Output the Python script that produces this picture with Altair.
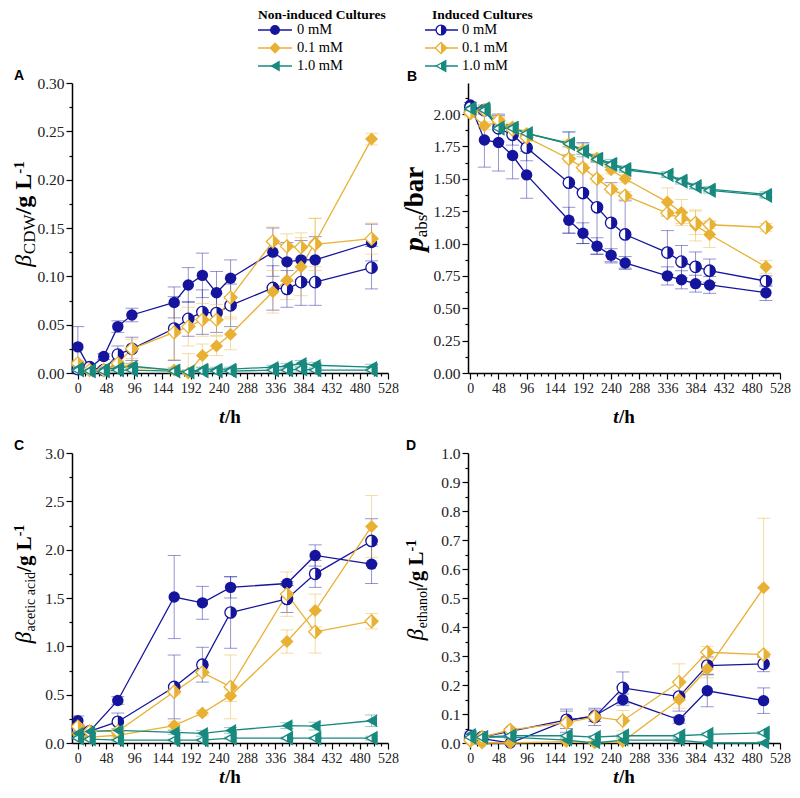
import altair as alt
import pandas as pd

# ---------------- data ----------------
# keys: NI = non-induced, IN = induced ; 0 / 01 / 1  -> 0 mM / 0.1 mM / 1.0 mM
A_T = [0, 20, 44, 68, 92, 164, 188, 212, 236, 260, 332, 356, 380, 404, 500]
A_NI0 = [0.027, 0.005, 0.017, 0.048, 0.060, 0.073, 0.091, 0.101, 0.083, 0.098, 0.125, 0.115, 0.117, 0.117, 0.135]
A_NI0_E = [0.021, 0.003, 0.003, 0.006, 0.007, 0.016, 0.018, 0.023, 0.022, 0.019, 0.025, 0.020, 0.020, 0.024, 0.019]
A_IN0 = [0.004, 0.006, 0.003, 0.019, 0.025, 0.046, 0.056, 0.063, 0.062, 0.070, 0.088, 0.087, 0.094, 0.094, 0.109]
A_IN0_E = [0.003, 0.002, 0.003, 0.009, 0.012, 0.033, 0.018, 0.023, 0.020, 0.022, 0.023, 0.019, 0.024, 0.024, 0.022]
A_NI01 = [0.008, 0.003, 0.003, 0.009, 0.006, 0.003, 0.000, 0.018, 0.028, 0.040, 0.084, 0.096, 0.110, 0.135, 0.242]
A_NI01_E = [0.003, 0.002, 0.002, 0.003, 0.003, 0.003, 0.020, 0.012, 0.010, 0.016, 0.022, 0.020, 0.030, 0.025, 0.006]
A_IN01 = [0.010, 0.003, 0.003, 0.010, 0.025, 0.042, 0.048, 0.055, 0.055, 0.078, 0.136, 0.131, 0.130, 0.133, 0.139]
A_IN01_E = [0.003, 0.002, 0.002, 0.003, 0.010, 0.028, 0.020, 0.017, 0.016, 0.020, 0.015, 0.013, 0.015, 0.027, 0.016]
A_NI1 = [0.005, 0.003, 0.004, 0.005, 0.007, 0.003, 0.001, 0.004, 0.004, 0.004, 0.006, 0.007, 0.010, 0.008, 0.006]
A_NI1_E = [0.003, 0.002, 0.002, 0.002, 0.003, 0.002, 0.002, 0.002, 0.002, 0.002, 0.002, 0.003, 0.003, 0.003, 0.003]
A_IN1 = [0.003, 0.002, 0.002, 0.003, 0.003, 0.002, 0.001, 0.002, 0.002, 0.002, 0.003, 0.003, 0.004, 0.003, 0.003]
A_IN1_E = [0.002, 0.002, 0.002, 0.002, 0.002, 0.002, 0.002, 0.002, 0.002, 0.002, 0.002, 0.002, 0.002, 0.002, 0.002]

B_T = [0, 24, 48, 72, 96, 168, 192, 216, 240, 264, 336, 360, 384, 408, 504]
B_NI0 = [2.07, 1.80, 1.78, 1.68, 1.53, 1.18, 1.08, 0.98, 0.91, 0.85, 0.75, 0.72, 0.69, 0.68, 0.62]
B_NI0_E = [0.02, 0.21, 0.22, 0.18, 0.18, 0.10, 0.08, 0.065, 0.05, 0.05, 0.07, 0.07, 0.065, 0.065, 0.06]
B_IN0 = [2.05, 2.03, 1.89, 1.84, 1.74, 1.47, 1.39, 1.28, 1.16, 1.07, 0.93, 0.86, 0.82, 0.79, 0.71]
B_IN0_E = [0.02, 0.03, 0.10, 0.08, 0.10, 0.39, 0.39, 0.36, 0.31, 0.26, 0.17, 0.125, 0.115, 0.09, 0.04]
B_NI01 = [2.00, 1.91, 1.94, 1.90, 1.85, 1.77, 1.72, 1.66, 1.57, 1.50, 1.32, 1.24, 1.14, 1.07, 0.82]
B_NI01_E = [0.02, 0.03, 0.03, 0.03, 0.03, 0.03, 0.03, 0.03, 0.03, 0.03, 0.11, 0.10, 0.12, 0.10, 0.05]
B_IN01 = [2.01, 2.03, 1.95, 1.88, 1.82, 1.655, 1.585, 1.50, 1.42, 1.37, 1.235, 1.195, 1.16, 1.145, 1.125]
B_IN01_E = [0.02, 0.03, 0.03, 0.03, 0.03, 0.03, 0.03, 0.03, 0.03, 0.03, 0.02, 0.04, 0.09, 0.03, 0.03]
B_NI1 = [2.05, 2.05, 1.90, 1.90, 1.85, 1.775, 1.72, 1.66, 1.62, 1.58, 1.535, 1.49, 1.445, 1.42, 1.38]
B_NI1_E = [0.02, 0.02, 0.02, 0.02, 0.02, 0.09, 0.05, 0.03, 0.03, 0.02, 0.02, 0.02, 0.02, 0.02, 0.02]
B_IN1 = [2.04, 2.03, 1.89, 1.89, 1.85, 1.77, 1.71, 1.65, 1.61, 1.57, 1.53, 1.48, 1.44, 1.41, 1.37]
B_IN1_E = [0.02, 0.02, 0.02, 0.02, 0.02, 0.02, 0.02, 0.02, 0.02, 0.02, 0.02, 0.02, 0.02, 0.02, 0.02]

C_T = [0, 20, 68, 164, 212, 260, 356, 404, 500]
C_NI0 = [0.23, 0.12, 0.44, 1.51, 1.45, 1.61, 1.65, 1.94, 1.85]
C_NI0_E = [0.05, 0.02, 0.04, 0.43, 0.17, 0.11, 0.02, 0.11, 0.20]
C_IN0 = [0.15, 0.12, 0.22, 0.58, 0.81, 1.35, 1.49, 1.75, 2.09]
C_IN0_E = [0.04, 0.02, 0.09, 0.33, 0.18, 0.37, 0.14, 0.14, 0.23]
C_NI01 = [0.10, 0.06, 0.08, 0.18, 0.31, 0.49, 1.05, 1.37, 2.24]
C_NI01_E = [0.02, 0.02, 0.02, 0.04, 0.03, 0.06, 0.12, 0.17, 0.32]
C_IN01 = [0.17, 0.12, 0.12, 0.53, 0.73, 0.58, 1.54, 1.15, 1.26]
C_IN01_E = [0.03, 0.02, 0.02, 0.03, 0.03, 0.33, 0.23, 0.22, 0.08]
C_NI1 = [0.10, 0.12, 0.13, 0.11, 0.10, 0.13, 0.18, 0.175, 0.23]
C_NI1_E = [0.02, 0.02, 0.02, 0.02, 0.03, 0.03, 0.03, 0.04, 0.06]
C_IN1 = [0.05, 0.04, 0.03, 0.03, 0.03, 0.05, 0.05, 0.05, 0.05]
C_IN1_E = [0.01, 0.01, 0.01, 0.01, 0.01, 0.01, 0.01, 0.01, 0.02]

D_T = [0, 20, 68, 164, 212, 260, 356, 404, 500]
D_NI0 = [0.020, 0.015, 0.000, 0.077, 0.094, 0.149, 0.080, 0.180, 0.146]
D_NI0_E = [0.005, 0.005, 0.005, 0.040, 0.020, 0.020, 0.012, 0.055, 0.044]
D_IN0 = [0.025, 0.020, 0.040, 0.080, 0.090, 0.190, 0.160, 0.267, 0.273]
D_IN0_E = [0.005, 0.005, 0.005, 0.030, 0.030, 0.055, 0.050, 0.030, 0.027]
D_NI01 = [0.005, 0.000, 0.000, 0.005, 0.000, 0.005, 0.150, 0.255, 0.535]
D_NI01_E = [0.005, 0.005, 0.005, 0.005, 0.005, 0.005, 0.030, 0.030, 0.240]
D_IN01 = [0.010, 0.020, 0.045, 0.070, 0.090, 0.077, 0.210, 0.313, 0.305]
D_IN01_E = [0.005, 0.005, 0.005, 0.010, 0.010, 0.035, 0.063, 0.020, 0.010]
D_NI1 = [0.030, 0.020, 0.020, 0.010, 0.000, 0.010, 0.010, 0.000, 0.000]
D_NI1_E = [0.008, 0.005, 0.005, 0.005, 0.005, 0.005, 0.005, 0.005, 0.005]
D_IN1 = [0.020, 0.020, 0.025, 0.025, 0.020, 0.025, 0.025, 0.030, 0.035]
D_IN1_E = [0.005, 0.005, 0.005, 0.005, 0.005, 0.005, 0.005, 0.005, 0.005]

CONC_LABELS = ["0 mM", "0.1 mM", "1.0 mM"]
GROUP_TITLES = ["Non-induced Cultures", "Induced Cultures"]

# ---------------- styling ----------------
BLUE, ORANGE, TEAL = "#14149c", "#e9b133", "#17897f"
COLORS = [BLUE, ORANGE, TEAL]
SHAPES = ["circle", "diamond", "triangle-left"]
SIZES = [130, 170, 160]
HALF = {
    "circle": "M0,-1A1,1,0,0,1,0,1Z",
    "diamond": "M0,-1L1,0L0,1Z",
    "triangle-left": "M0,-0.5L0.866,-1L0.866,1L0,0.5Z",
}
SERIF = "Liberation Serif"
SANS = "Liberation Sans"
ONE = pd.DataFrame({"k": [0]})

W_REG = {"C": .667, "D": .722, "W": .944, "a": .444, "b": .5, "c": .444, "d": .5, "e": .444,
         "t": .278, "i": .278, "h": .5, "n": .5, "o": .5, "l": .278, "s": .389, " ": .25,
         "-": .333, "1": .5, "/": .278, "g": .5, "L": .611, "r": .333}
W_BOLD = {"/": .278, "g": .5, "L": .667, " ": .25, "b": .556, "a": .5, "r": .444, "-": .333,
          "1": .5, "h": .556, "t": .333, "p": .556}
W_IT = {"β": .52, "t": .3, "p": .5}


def tw(s, size, weight, style):
    if style == "italic":
        tab = W_IT
    elif weight == "bold":
        tab = W_BOLD
    else:
        tab = W_REG
    return sum(tab.get(ch, 0.5) for ch in s) * size


def text_layer(txt, x, y, size, weight="normal", style="normal", angle=0, font=SERIF,
               align="left", baseline="alphabetic"):
    return alt.Chart(ONE).mark_text(
        text=txt, font=font, fontSize=size, fontWeight=weight, fontStyle=style,
        angle=angle, align=align, baseline=baseline, color="black"
    ).encode(x=alt.value(x), y=alt.value(y))


def y_title(pieces, base_x, yc):
    total = sum(tw(p[0], p[1], p[2], p[3]) for p in pieces)
    y = yc + total / 2
    out = []
    for txt, size, weight, style, shift in pieces:
        out.append(text_layer(txt, base_x + shift, y, size, weight, style, angle=270))
        y -= tw(txt, size, weight, style)
    return out


def x_title(cx, y):
    pieces = [("t", 19, "bold", "italic"), ("/h", 19, "bold", "normal")]
    total = sum(tw(p[0], p[1], p[2], p[3]) for p in pieces)
    x = cx - total / 2
    out = []
    for txt, size, weight, style in pieces:
        out.append(text_layer(txt, x, y, size, weight, style))
        x += tw(txt, size, weight, style)
    return out


def panel(times, series, ymax, major, minor, fmt, xmin, w, h, letter, letter_xy,
          ypieces, ytx, yty, xty, legend=None):
    xtest = "datum.value % 48 === 0"
    x_axis = alt.Axis(
        values=list(range(0, 529, 12)), format="d",
        labelExpr=f"{xtest} ? datum.label : ''",
        tickSize={"condition": {"test": xtest, "value": 6}, "value": 3},
        labelFontSize=14, labelFont=SERIF, labelColor="#222", labelFlush=False,
        labelOverlap=False, title=None, labelPadding=2)
    x_scale = alt.Scale(domain=[xmin, 528], nice=False, zero=False)
    mk = int(round(major * 1000))
    nvals = int(round(ymax / minor)) + 1
    yvals = [round(i * minor, 4) for i in range(nvals) if i * minor <= ymax + 1e-9]
    test = f"round(datum.value*1000) % {mk} === 0"
    y_axis = alt.Axis(
        values=yvals, format=fmt,
        labelExpr=f"{test} ? datum.label : ''",
        tickSize={"condition": {"test": test, "value": 6}, "value": 3},
        labelFontSize=15.5, labelFont=SERIF, labelColor="#222", labelFlush=False,
        labelOverlap=False, title=None, labelPadding=2)
    y_scale = alt.Scale(domain=[0, ymax], nice=False, zero=True)

    def X(f="t"):
        return alt.X(f"{f}:Q", scale=x_scale, axis=x_axis)

    def Y(f="v"):
        return alt.Y(f"{f}:Q", scale=y_scale, axis=y_axis)

    layers = []
    point_layers = []
    for ci in range(3):
        for induced in (False, True):
            vals, errs = series[ci][1 if induced else 0]
            df = pd.DataFrame({"t": times, "v": vals, "e": errs})
            df["lo"] = (df["v"] - df["e"]).clip(lower=0)
            df["hi"] = df["v"] + df["e"]
            c = COLORS[ci]
            base = alt.Chart(df)
            layers.append(base.mark_line(color=c, strokeWidth=1.3).encode(x=X(), y=Y()))
            layers.append(base.mark_rule(color=c, opacity=0.45, strokeWidth=1).encode(
                x=X(), y=Y("lo"), y2="hi:Q"))
            for f in ("lo", "hi"):
                layers.append(base.mark_tick(color=c, opacity=0.45, orient="horizontal",
                                             size=13, thickness=1).encode(x=X(), y=Y(f)))
            if not induced:
                point_layers.append(base.mark_point(shape=SHAPES[ci], filled=True, color=c,
                                                    opacity=1, size=SIZES[ci]).encode(x=X(), y=Y()))
            else:
                point_layers.append(base.mark_point(shape=SHAPES[ci], filled=True, fill="white",
                                                    stroke=c, strokeWidth=1.3, opacity=1,
                                                    size=SIZES[ci]).encode(x=X(), y=Y()))
                point_layers.append(base.mark_point(shape=HALF[SHAPES[ci]], filled=True, color=c,
                                                    strokeWidth=0, opacity=1,
                                                    size=SIZES[ci]).encode(x=X(), y=Y()))
    layers += point_layers
    layers.append(text_layer(letter, letter_xy[0], letter_xy[1], 14, "bold", font=SANS,
                             align="center", baseline="middle"))
    layers += y_title(ypieces, ytx, yty)
    layers += x_title(w / 2, xty)
    if legend:
        col_x, row_y, title_y = legend
        for gi, (lx1, lx2, mx, tx, ttx) in enumerate(col_x):
            layers.append(text_layer(GROUP_TITLES[gi], ttx, title_y, 13.5, "bold"))
            for ci in range(3):
                c = COLORS[ci]
                yy = row_y[ci]
                layers.append(alt.Chart(ONE).mark_rule(color=c, strokeWidth=1.5).encode(
                    x=alt.value(lx1), x2=alt.value(lx2), y=alt.value(yy)))
                if gi == 0:
                    layers.append(alt.Chart(ONE).mark_point(shape=SHAPES[ci], filled=True, color=c,
                                                            opacity=1, size=SIZES[ci] * 0.75).encode(
                        x=alt.value(mx), y=alt.value(yy)))
                else:
                    layers.append(alt.Chart(ONE).mark_point(shape=SHAPES[ci], filled=True, fill="white",
                                                            stroke=c, strokeWidth=1.3, opacity=1,
                                                            size=SIZES[ci] * 0.75).encode(
                        x=alt.value(mx), y=alt.value(yy)))
                    layers.append(alt.Chart(ONE).mark_point(shape=HALF[SHAPES[ci]], filled=True, color=c,
                                                            strokeWidth=0, opacity=1,
                                                            size=SIZES[ci] * 0.75).encode(
                        x=alt.value(mx), y=alt.value(yy)))
                layers.append(text_layer(CONC_LABELS[ci], tx, yy, 14.5, baseline="middle"))
    return alt.layer(*layers).properties(width=w, height=h)


WL, WR, H = 316, 312, 290
LEGEND = ([(186, 220, 203, 225, 186), (353, 386, 369, 390, 360)], [-53, -35, -17], -64)

A = panel(A_T, [((A_NI0, A_NI0_E), (A_IN0, A_IN0_E)), ((A_NI01, A_NI01_E), (A_IN01, A_IN01_E)),
                ((A_NI1, A_NI1_E), (A_IN1, A_IN1_E))],
          0.30, 0.05, 0.025, ".2f", -10, WL, H, "A", (-53, -7),
          [("β", 24, "normal", "italic", 0), ("CDW", 17, "normal", "normal", 4),
           ("/g L", 24, "bold", "normal", 0), ("-1", 15, "bold", "normal", -7)],
          -41, 131, 340, legend=LEGEND)
B = panel(B_T, [((B_NI0, B_NI0_E), (B_IN0, B_IN0_E)), ((B_NI01, B_NI01_E), (B_IN01, B_IN01_E)),
                ((B_NI1, B_NI1_E), (B_IN1, B_IN1_E))],
          2.24, 0.25, 0.125, ".2f", -4, WR, H, "B", (-56, -6),
          [("p", 28, "bold", "italic", 0), ("abs", 17, "normal", "normal", 4),
           ("/bar", 27, "bold", "normal", 0)],
          -45, 126, 340)
C = panel(C_T, [((C_NI0, C_NI0_E), (C_IN0, C_IN0_E)), ((C_NI01, C_NI01_E), (C_IN01, C_IN01_E)),
                ((C_NI1, C_NI1_E), (C_IN1, C_IN1_E))],
          3.0, 0.5, 0.25, ".1f", -10, WL, H, "C", (-53, -7),
          [("β", 23, "normal", "italic", 0), ("acetic acid", 14, "normal", "normal", 4),
           ("/g L", 21, "bold", "normal", 0), ("-1", 14, "bold", "normal", -7)],
          -41, 131, 330)
D = panel(D_T, [((D_NI0, D_NI0_E), (D_IN0, D_IN0_E)), ((D_NI01, D_NI01_E), (D_IN01, D_IN01_E)),
                ((D_NI1, D_NI1_E), (D_IN1, D_IN1_E))],
          1.0, 0.1, 0.05, ".1f", -4, WR, H, "D", (-57, -7),
          [("β", 23, "normal", "italic", 0), ("ethanol", 14, "normal", "normal", 4),
           ("/g L", 21, "bold", "normal", 0), ("-1", 14, "bold", "normal", -7)],
          -45, 137, 330)

chart = alt.concat(A, B, C, D, columns=2, spacing=80, bounds="flush").properties(
    padding={"left": 4, "top": 0, "right": 0, "bottom": 0}
).configure_view(stroke=None).configure_axis(
    domainColor="black", domainWidth=1.5, tickColor="black", tickWidth=1.2,
    labelFont=SERIF, labelColor="#222", grid=False
)

chart.save("out.html", embed_options={"renderer": "svg", "actions": False})
